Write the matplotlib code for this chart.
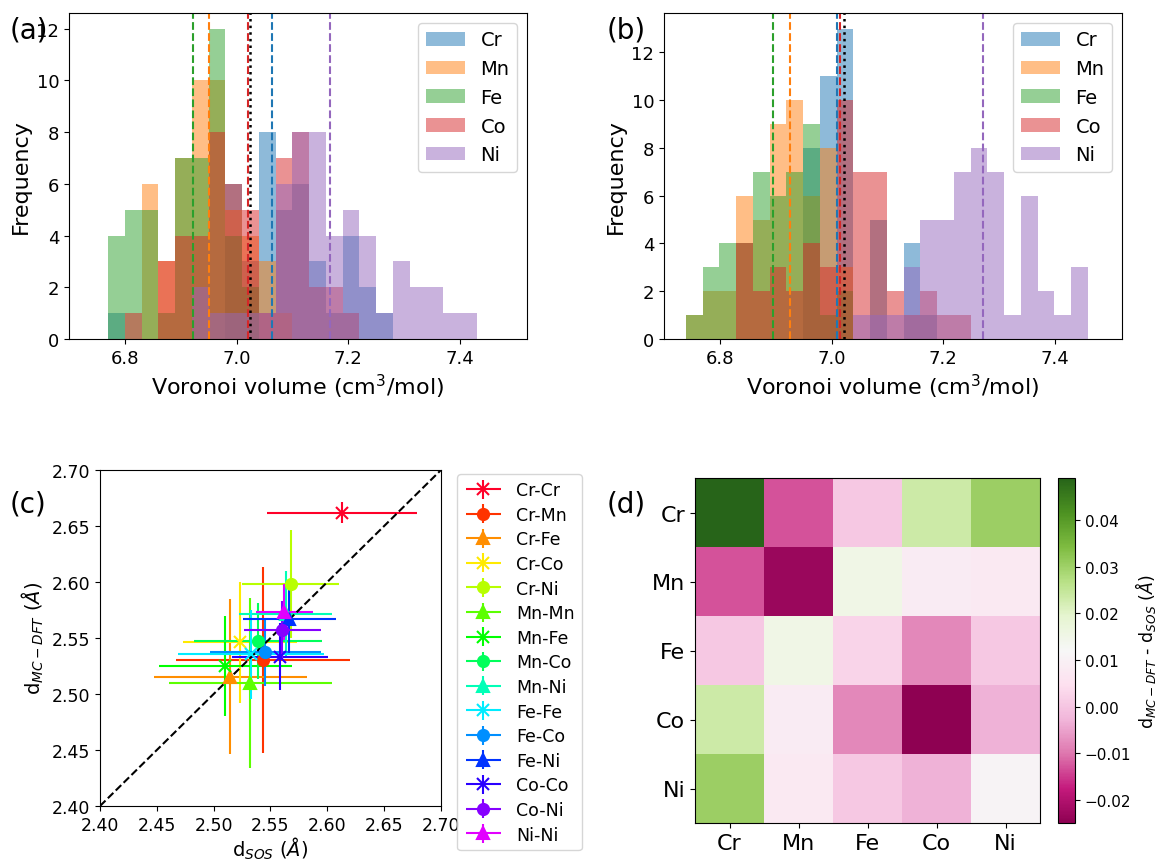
import numpy as np
import matplotlib
matplotlib.use("Agg")
import matplotlib.pyplot as plt
from matplotlib.legend_handler import HandlerErrorbar
from matplotlib.container import ErrorbarContainer

elements = ["Cr", "Mn", "Fe", "Co", "Ni"]
bin_width = 0.03

# (a) Voronoi volume histograms, counts per bin
bins_a_start = 6.77
counts_a = {
    "Cr": [1, 0, 0, 0, 0, 0, 0, 6, 3, 8, 5, 6, 3, 1, 4, 2, 1, 0, 0, 0, 0, 0],
    "Mn": [0, 0, 6, 3, 7, 10, 10, 5, 4, 3, 1, 0, 0, 0, 0, 0, 0, 0, 0, 0, 0, 0],
    "Fe": [4, 5, 5, 1, 7, 7, 12, 4, 2, 0, 0, 0, 0, 0, 0, 0, 0, 0, 0, 0, 0, 0],
    "Co": [0, 1, 0, 3, 4, 4, 8, 6, 5, 1, 7, 8, 2, 2, 1, 0, 0, 0, 0, 0, 0, 0],
    "Ni": [0, 0, 0, 0, 0, 2, 1, 1, 1, 1, 6, 8, 8, 4, 5, 4, 1, 3, 2, 2, 1, 1],
}
means_a = [7.064, 6.950, 6.922, 7.020, 7.167]
mean_all_a = 7.0235

# (b)
bins_b_start = 6.739
counts_b = {
    "Cr": [0, 0, 0, 0, 0, 0, 0, 8, 11, 13, 0, 5, 0, 4, 1, 0, 0, 0, 0, 0, 0, 0, 0, 0],
    "Mn": [1, 2, 2, 6, 5, 9, 10, 6, 8, 3, 0, 0, 0, 0, 0, 0, 0, 0, 0, 0, 0, 0, 0, 0],
    "Fe": [1, 3, 4, 4, 7, 6, 7, 9, 1, 2, 0, 0, 0, 0, 0, 0, 0, 0, 0, 0, 0, 0, 0, 0],
    "Co": [0, 0, 0, 4, 2, 3, 2, 4, 3, 10, 7, 7, 2, 1, 2, 1, 1, 0, 0, 0, 0, 0, 0, 0],
    "Ni": [0, 0, 0, 0, 0, 0, 0, 0, 0, 0, 1, 1, 1, 3, 5, 5, 7, 8, 7, 1, 6, 2, 1, 3],
}
means_b = [7.010, 6.925, 6.896, 7.015, 7.271]
mean_all_b = 7.022

# (c) bond lengths
pairs = ["Cr-Cr", "Cr-Mn", "Cr-Fe", "Cr-Co", "Cr-Ni", "Mn-Mn", "Mn-Fe", "Mn-Co",
         "Mn-Ni", "Fe-Fe", "Fe-Co", "Fe-Ni", "Co-Co", "Co-Ni", "Ni-Ni"]
d_sos = [2.613, 2.5435, 2.5148, 2.523, 2.5676, 2.5324, 2.510, 2.5388,
         2.5635, 2.5327, 2.5456, 2.5664, 2.5582, 2.5603, 2.5623]
d_sos_err = [0.066, 0.0765, 0.067, 0.050, 0.043, 0.072, 0.0585, 0.0565,
             0.041, 0.064, 0.049, 0.041, 0.042, 0.034, 0.025]
d_mc = [2.662, 2.5305, 2.5155, 2.5464, 2.598, 2.5095, 2.5250, 2.5473,
        2.571, 2.5354, 2.5375, 2.567, 2.5333, 2.5571, 2.5732]
d_mc_err = [0.009, 0.083, 0.069, 0.054, 0.048, 0.076, 0.045, 0.034,
            0.039, 0.040, 0.030, 0.030, 0.030, 0.026, 0.025]
markers = ["x", "o", "^"]

fig = plt.figure(figsize=(11.58, 8.62), dpi=100)
W, H = 1158, 862


def px_axes(left, top, right, bottom):
    return fig.add_axes([left / W, 1 - bottom / H, (right - left) / W, (bottom - top) / H])


def volume_hist(ax, start, counts, means, mean_all):
    nb = len(counts["Cr"])
    edges = start + bin_width * np.arange(nb + 1)
    centers = 0.5 * (edges[:-1] + edges[1:])
    for i, el in enumerate(elements):
        ax.hist(centers, bins=edges, weights=counts[el], color="C%d" % i,
                alpha=0.5, label=el)
    for i, m in enumerate(means):
        ax.axvline(m, color="C%d" % i, ls="--", lw=1.5)
    ax.axvline(mean_all, color="k", ls=":", lw=1.8)
    ax.set_xlim(6.70, 7.52)
    ax.set_xticks([6.8, 7.0, 7.2, 7.4])
    ax.set_xlabel("Voronoi volume (cm$^3$/mol)", fontsize=16)
    ax.set_ylabel("Frequency", fontsize=16)
    ax.tick_params(labelsize=13)
    ax.legend(loc="upper right", fontsize=14)


ax_a = px_axes(69, 14, 527, 340)
volume_hist(ax_a, bins_a_start, counts_a, means_a, mean_all_a)
ax_a.set_yticks(range(0, 13, 2))

ax_b = px_axes(664, 14, 1122, 340)
volume_hist(ax_b, bins_b_start, counts_b, means_b, mean_all_b)
ax_b.set_yticks(range(0, 13, 2))

# (c)
ax_c = px_axes(100, 471, 441, 807)
colors = plt.cm.gist_rainbow(np.arange(len(pairs)) / len(pairs))
handles = []
for i, p in enumerate(pairs):
    h = ax_c.errorbar(d_sos[i], d_mc[i], xerr=d_sos_err[i], yerr=d_mc_err[i],
                      fmt=markers[i % 3], color=colors[i], ms=8, mew=1.5,
                      elinewidth=1.5, label=p)
    handles.append(h)
ax_c.plot([2.40, 2.70], [2.40, 2.70], "k--", lw=1.5)
ax_c.set_xlim(2.40, 2.70)
ax_c.set_ylim(2.40, 2.70)
ticks = np.arange(2.40, 2.701, 0.05)
ax_c.set_xticks(ticks)
ax_c.set_yticks(ticks)
ax_c.tick_params(labelsize=12.5)
ax_c.set_xlabel("d$_{SOS}$ ($\\AA$)", fontsize=14, labelpad=1)
ax_c.set_ylabel("d$_{MC-DFT}$ ($\\AA$)", fontsize=14)
fig.legend(handles, pairs, loc="upper left", bbox_to_anchor=(452 / W, 1 - 470 / H),
           fontsize=12.5, handlelength=2.2, labelspacing=0.38, borderaxespad=0.3,
           handler_map={ErrorbarContainer: HandlerErrorbar(xerr_size=1.0, yerr_size=0.55)})

# (d) difference matrix
diff = np.zeros((5, 5))
k = 0
for i in range(5):
    for j in range(i, 5):
        diff[i, j] = diff[j, i] = d_mc[k] - d_sos[k]
        k += 1
ax_d = px_axes(695, 479, 1040, 824)
im = ax_d.imshow(diff, cmap="PiYG", aspect="auto")
ax_d.set_xticks(range(5))
ax_d.set_yticks(range(5))
ax_d.set_xticklabels(elements)
ax_d.set_yticklabels(elements)
ax_d.tick_params(labelsize=16)
cax = px_axes(1058, 479, 1075, 824)
cb = fig.colorbar(im, cax=cax)
cb.ax.tick_params(labelsize=11)
cb.set_label("d$_{MC-DFT}$ - d$_{SOS}$ ($\\AA$)", fontsize=12.5, labelpad=1)

for lab, x, y in [("(a)", 10, 30), ("(b)", 607, 30), ("(c)", 10, 505), ("(d)", 607, 505)]:
    fig.text(x / W, 1 - y / H, lab, fontsize=20, va="center", ha="left")

fig.savefig("out.png", dpi=100)
